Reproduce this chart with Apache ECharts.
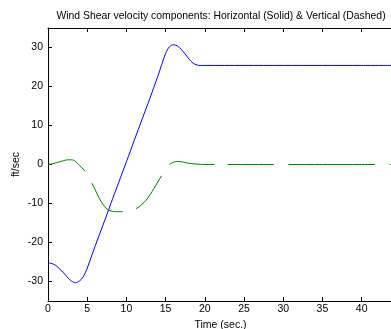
<!DOCTYPE html>
<html>
<head>
<meta charset="utf-8">
<script src="https://cdn.jsdelivr.net/npm/echarts@6/dist/echarts.min.js"></script>
<style>
  html, body { margin: 0; padding: 0; background: #fff; }
  #chart { width: 391px; height: 329px; }
</style>
</head>
<body>
<div id="chart"></div>
<script>
const time = [0, 0.5, 1, 1.5, 2, 2.5, 3, 3.5, 4, 4.5, 5, 5.5, 6, 6.5, 7, 7.5, 8, 8.5, 9, 9.5,
  10, 10.5, 11, 11.5, 12, 12.5, 13, 13.5, 14, 14.5, 15, 15.5, 16, 16.5, 17, 17.5, 18, 18.5, 19, 19.5,
  20, 25, 30, 35, 40, 44];

// horizontal component (solid)
const horizontal = [-25.2, -25.4, -25.9, -26.8, -27.8, -29.0, -29.9, -30.3, -29.9, -28.8,
  -26.6, -23.8, -21.0, -18.3, -15.6, -12.9, -10.1, -7.4, -4.7, -2.0,
  0.7, 3.4, 6.2, 8.9, 11.6, 14.3, 17.0, 19.8, 22.6, 25.6,
  28.5, 30.2, 30.7, 30.4, 29.5, 28.3, 27.0, 26.0, 25.5, 25.4,
  25.4, 25.4, 25.4, 25.4, 25.4, 25.4];

// vertical component (dashed)
const vertical = [0, 0.15, 0.4, 0.7, 1.0, 1.2, 1.2, 0.8, -0.2, -1.2,
  -2.6, -4.5, -6.4, -8.5, -10.2, -11.4, -11.9, -12.1, -12.1, -12.1,
  -12.0, -11.9, -11.5, -11.0, -10.2, -9.2, -7.8, -6.2, -4.5, -2.8,
  -1.2, 0.0, 0.6, 0.8, 0.7, 0.5, 0.3, 0.2, 0.1, 0.05,
  0, 0, 0, 0, 0, 0];

const yTicks = [-30, -20, -10, 0, 10, 20, 30];

const chart = echarts.init(document.getElementById('chart'), null, { renderer: 'canvas' });

const font = '"Liberation Sans", Arial, sans-serif';
const axisLine = { show: true, onZero: false, lineStyle: { color: '#000', width: 1 } };

chart.setOption({
  animation: false,
  backgroundColor: '#fff',
  graphic: [{
    type: 'text',
    x: 221,
    y: 16,
    style: {
      text: 'Wind Shear velocity components: Horizontal (Solid) & Vertical (Dashed)',
      font: '10.4px ' + font,
      fill: '#000',
      align: 'center',
      verticalAlign: 'middle',
    },
  }],
  grid: { left: 48, top: 28, width: 345, height: 273, outerBoundsMode: 'none', containLabel: false },
  xAxis: [
    {
      type: 'value',
      min: 0,
      max: 44,
      interval: 5,
      name: 'Time (sec.)',
      nameLocation: 'middle',
      nameGap: 19,
      nameTextStyle: { fontFamily: font, fontSize: 10.5, color: '#000' },
      axisLine,
      axisTick: { inside: true, length: 4, lineStyle: { color: '#000' } },
      axisLabel: { fontFamily: font, fontSize: 10.5, color: '#000', margin: 3, showMaxLabel: false },
      splitLine: { show: false },
    },
    {
      type: 'value',
      position: 'top',
      min: 0,
      max: 44,
      interval: 5,
      axisLine,
      axisTick: { inside: true, length: 4, lineStyle: { color: '#000' } },
      axisLabel: { show: false },
      splitLine: { show: false },
    },
  ],
  yAxis: {
    type: 'value',
    min: -35,
    max: 35,
    name: 'ft/sec',
    nameLocation: 'middle',
    nameGap: 26,
    nameMoveOverlap: false,
    nameTextStyle: { fontFamily: font, fontSize: 10.5, color: '#000' },
    axisLine,
    axisTick: { inside: true, length: 4, customValues: yTicks, lineStyle: { color: '#000' } },
    axisLabel: { fontFamily: font, fontSize: 10.5, color: '#000', margin: 5, customValues: yTicks },
    splitLine: { show: false },
  },
  series: [
    {
      name: 'Horizontal',
      type: 'line',
      data: time.map((t, i) => [t, horizontal[i]]),
      smooth: 0.3,
      showSymbol: false,
      lineStyle: { color: '#0000ff', width: 1 },
    },
    {
      name: 'Vertical',
      type: 'line',
      data: time.map((t, i) => [t, vertical[i]]),
      smooth: 0.3,
      showSymbol: false,
      lineStyle: { color: '#008000', width: 1, type: [42, 14, 46, 14, 42, 14, 46, 13, 46, 15, 86, 15] },
    },
  ],
});
</script>
</body>
</html>
